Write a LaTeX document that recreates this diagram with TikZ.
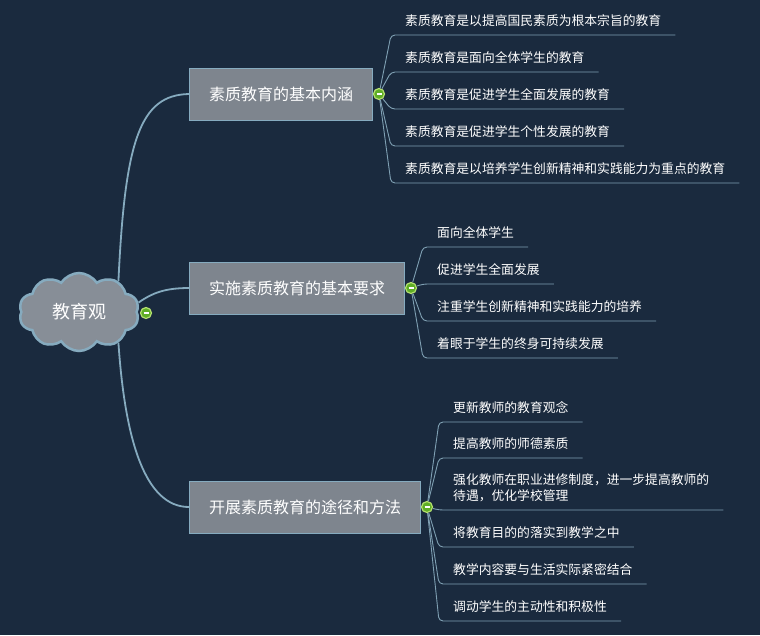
\documentclass[tikz,border=0pt]{standalone}
\usepackage{fontspec}
\newfontfamily\cjk{Noto Sans CJK SC}
\usepackage{tikz}
\usetikzlibrary{calc}
\usetikzlibrary{positioning}
\usetikzlibrary{shapes}
\usetikzlibrary{shapes.symbols}

\definecolor{bgnavy}{HTML}{1A2A3E}
\definecolor{boxgray}{HTML}{7E858E}
\definecolor{cloudgray}{HTML}{878E97}
\definecolor{rimblue}{HTML}{86ABBF}
\definecolor{linkblue}{HTML}{7FA0B3}
\definecolor{hubgreen}{HTML}{5FAE25}
\definecolor{hubrim}{HTML}{B4E070}

\tikzset{
	idea/.style={cloud, cloud puffs=10, cloud puff arc=115, aspect=1.5, draw=rimblue, fill=cloudgray, line width=2.5pt, minimum width=120pt, minimum height=78pt, inner sep=0pt, text=white, font=\cjk\fontsize{18}{22}\selectfont},
	topic/.style={rectangle, anchor=west, draw=rimblue, fill=boxgray, line width=1pt, minimum height=52pt, text=white, font=\cjk\fontsize{16}{20}\selectfont},
	leaf/.style={anchor=south west, text=white, inner xsep=14pt, inner ysep=0pt, text depth=9pt, align=left, font=\cjk\fontsize{12.8}{16}\selectfont},
	hub/.style={circle, draw=hubrim, fill=hubgreen, line width=1.2pt, minimum size=11pt, inner sep=0pt, path picture={\draw[white, line width=1.6pt] ($(path picture bounding box.west)+(3pt,0)$) -- ($(path picture bounding box.east)+(-3pt,0)$);}},
	trunk/.style={draw=rimblue, line width=1.8pt},
	twig/.style={draw=linkblue, line width=0.9pt, rounded corners=4pt}
}

\begin{document}
\begin{tikzpicture}[x=1pt, y=-1pt]
				\fill[bgnavy] (0,0) rectangle (760,635);
				
				\node[idea] (tree) at (79,312) {教育观};
				
				\node[topic, minimum width=183pt] (b1) at (189,94) {素质教育的基本内涵};
				\node[topic, minimum width=215pt] (b2) at (189,288) {实施素质教育的基本要求};
				\node[topic, minimum width=231pt] (b3) at (189,507) {开展素质教育的途径和方法};
				
				\node[leaf] (l11) at (391,35) {素质教育是以提高国民素质为根本宗旨的教育};
				\node[leaf] (l12) at (391,72) {素质教育是面向全体学生的教育};
				\node[leaf] (l13) at (391,109) {素质教育是促进学生全面发展的教育};
				\node[leaf] (l14) at (391,146) {素质教育是促进学生个性发展的教育};
				\node[leaf] (l15) at (391,183) {素质教育是以培养学生创新精神和实践能力为重点的教育};
				
				\node[leaf] (l21) at (423,247) {面向全体学生};
				\node[leaf] (l22) at (423,284) {促进学生全面发展};
				\node[leaf] (l23) at (423,321) {注重学生创新精神和实践能力的培养};
				\node[leaf] (l24) at (423,358) {着眼于学生的终身可持续发展};
				
				\node[leaf] (l31) at (439,422) {更新教师的教育观念};
				\node[leaf] (l32) at (439,458) {提高教师的师德素质};
				\node[leaf] (l33) at (439,510) {强化教师在职业进修制度，进一步提高教师的\\待遇，优化学校管理};
				\node[leaf] (l34) at (439,547) {将教育目的的落实到教学之中};
				\node[leaf] (l35) at (439,584) {教学内容要与生活实际紧密结合};
				\node[leaf] (l36) at (439,621) {调动学生的主动性和积极性};
				
				\draw[trunk] (tree.38) .. controls (125,140) and (140,95) .. (b1.west);
				\draw[trunk] (tree.9) .. controls (152,293) and (165,288) .. (b2.west);
				\draw[trunk] (tree.-38) .. controls (125,440) and (145,507) .. (b3.west);
				
				\node[hub] (h0) at (146,313) {};
				\node[hub] (h1) at (379,94) {};
				\node[hub] (h2) at (411,288) {};
				\node[hub] (h3) at (427,507) {};
				
				\draw[twig] (h1) -- (l11.south west) -- (l11.south east);
				\draw[twig] (h1) -- (l12.south west) -- (l12.south east);
				\draw[twig] (h1) -- (l13.south west) -- (l13.south east);
				\draw[twig] (h1) -- (l14.south west) -- (l14.south east);
				\draw[twig] (h1) -- (l15.south west) -- (l15.south east);
				
				\draw[twig] (h2) -- (l21.south west) -- (l21.south east);
				\draw[twig] (h2) -- (l22.south west) -- (l22.south east);
				\draw[twig] (h2) -- (l23.south west) -- (l23.south east);
				\draw[twig] (h2) -- (l24.south west) -- (l24.south east);
				
				\draw[twig] (h3) -- (l31.south west) -- (l31.south east);
				\draw[twig] (h3) -- (l32.south west) -- (l32.south east);
				\draw[twig] (h3) -- (l33.south west) -- (l33.south east);
				\draw[twig] (h3) -- (l34.south west) -- (l34.south east);
				\draw[twig] (h3) -- (l35.south west) -- (l35.south east);
				\draw[twig] (h3) -- (l36.south west) -- (l36.south east);
			\end{tikzpicture}
\end{document}
